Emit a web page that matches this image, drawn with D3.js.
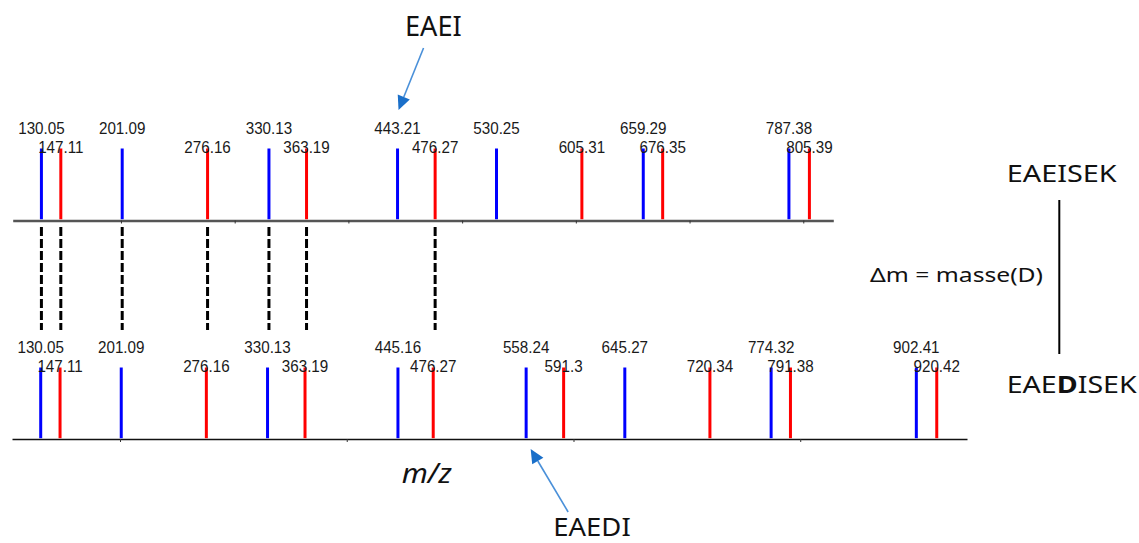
<!DOCTYPE html>
<html>
<head>
<meta charset="utf-8">
<script src="https://cdn.jsdelivr.net/npm/d3@7"></script>
<style>
  html, body { margin: 0; padding: 0; background: #fff; }
  svg { display: block; }
</style>
</head>
<body>
<script>
// ---------- data ----------
const topBlue = [130.05, 201.09, 330.13, 443.21, 530.25, 659.29, 787.38];
const topRed  = [147.11, 276.16, 363.19, 476.27, 605.31, 676.35, 805.39];
const botBlue = [130.05, 201.09, 330.13, 445.16, 558.24, 645.27, 774.32, 902.41];
const botRed  = [147.11, 276.16, 363.19, 476.27, 591.3, 720.34, 791.38, 920.42];
const shared  = [130.05, 147.11, 201.09, 276.16, 330.13, 363.19, 476.27];
const peakIntensity = 100;
const topTicks = [200, 300, 400, 500, 600, 700, 800];
const botTicks = [200, 400, 600, 800];
const topPeptide = "EAEISEK";
const botPeptide = ["EAE", "D", "ISEK"];
const topFragment = "EAEI";
const botFragment = "EAEDI";
const deltaLabel = "\u0394m = masse(D)";
const axisLabel = "m/z";

const W = 1139, H = 543;
const svg = d3.select("body").append("svg").attr("width", W).attr("height", H);

const xTop = d3.scaleLinear().domain([104.8, 826.4]).range([12.7, 833.3]);
const xBot = d3.scaleLinear().domain([104.73, 947.1]).range([12, 967]);
const yTop = d3.scaleLinear().domain([0, 100]).range([220.5, 148.5]);
const yBot = d3.scaleLinear().domain([0, 100]).range([439, 367.5]);

const BLUE = "#0000ff", RED = "#ff0000";
const labelFont = "'Liberation Sans', Arial, sans-serif";
const annFont = "'Noto Sans', 'Open Sans', sans-serif";

function panel(x, y, blue, red, ticks, axisColor, axisWidth) {
  const g = svg.append("g");
  const ax = g.append("g")
    .attr("transform", `translate(0,${y(0)})`)
    .call(d3.axisBottom(x).tickValues(ticks).tickSize(3).tickSizeOuter(0).tickFormat(""));
  ax.select(".domain").attr("stroke", axisColor).attr("stroke-width", axisWidth);
  ax.selectAll(".tick line").attr("stroke", "#333").attr("stroke-width", 1);

  const peaks = blue.map(m => ({m, c: BLUE, t: "b"})).concat(red.map(m => ({m, c: RED, t: "r"})));
  g.selectAll("line.peak").data(peaks).enter().append("line")
    .attr("class", "peak")
    .attr("x1", d => x(d.m)).attr("x2", d => x(d.m))
    .attr("y1", y(0) - axisWidth / 2).attr("y2", y(peakIntensity))
    .attr("stroke", d => d.c).attr("stroke-width", 3);

  g.selectAll("text.lab").data(peaks).enter().append("text")
    .attr("class", "lab")
    .attr("transform", d => `translate(${x(d.m)},${d.t === "b" ? y(peakIntensity) - 15 : y(peakIntensity) + 4}) scale(1,1.13)`)
    .attr("text-anchor", "middle")
    .attr("font-family", labelFont)
    .attr("font-size", 15.2)
    .attr("fill", "#1a1a1a")
    .text(d => String(d.m));
}

panel(xTop, yTop, topBlue, topRed, topTicks, "#555", 2.5);
panel(xBot, yBot, botBlue, botRed, botTicks, "#111", 1.6);

// dashed connectors for shared fragments
svg.selectAll("line.conn").data(shared).enter().append("line")
  .attr("x1", d => xTop(d)).attr("x2", d => xTop(d))
  .attr("y1", 227).attr("y2", 330)
  .attr("stroke", "#000").attr("stroke-width", 3)
  .attr("stroke-dasharray", "9,3");

function arrow(x1, y1, x2, y2) {
  const len = Math.hypot(x2 - x1, y2 - y1);
  const ux = (x2 - x1) / len, uy = (y2 - y1) / len;
  const hl = 14, hw = 6.5;
  const bx = x2 - ux * hl, by = y2 - uy * hl;
  svg.append("line").attr("x1", x1).attr("y1", y1).attr("x2", bx).attr("y2", by)
    .attr("stroke", "#4a90d9").attr("stroke-width", 1.6);
  svg.append("path")
    .attr("d", `M${x2},${y2} L${bx - uy * hw},${by + ux * hw} L${bx + uy * hw},${by - ux * hw} Z`)
    .attr("fill", "#1a6fc9");
}
arrow(xTop(443.21) + 26, 48, xTop(443.21) + 1, 110);
arrow(xBot(558.24) + 42, 512, xBot(558.24) + 4.5, 449);

function ann(str, x, y, size, len, opts = {}) {
  const t = svg.append("text").attr("x", x).attr("y", y)
    .attr("font-family", annFont).attr("font-size", size).attr("fill", "#111")
    .attr("textLength", len).attr("lengthAdjust", "spacingAndGlyphs");
  if (opts.italic) t.attr("font-style", "italic");
  if (Array.isArray(str)) {
    str.forEach((s, i) => t.append("tspan").attr("font-weight", i === 1 ? "bold" : "normal").text(s));
  } else t.text(str);
  return t;
}
ann(topFragment, 405, 36, 27, 56.7);
ann(botFragment, 553.3, 535.5, 26, 77.4);
ann(topPeptide, 1006.7, 182.3, 24, 110);
ann(botPeptide, 1006.7, 393.3, 24, 130);
ann(deltaLabel, 870, 281.5, 20, 173);
ann(axisLabel, 401.7, 483, 27, 50, {italic: true});

svg.append("line").attr("x1", 1059.3).attr("x2", 1059.3).attr("y1", 200).attr("y2", 354)
  .attr("stroke", "#000").attr("stroke-width", 2);
</script>
</body>
</html>
